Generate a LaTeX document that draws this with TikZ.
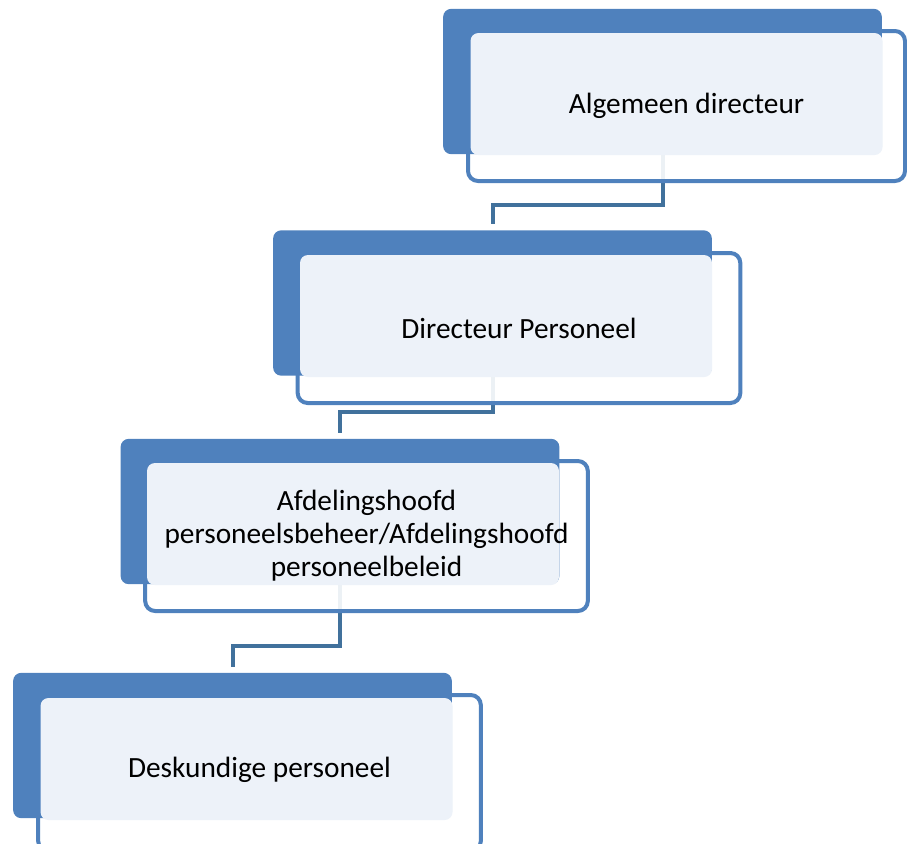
\documentclass[tikz,border=0pt]{standalone}
\usepackage{fontspec}
\setmainfont{Carlito}
\usepackage{tikz}
\usetikzlibrary{positioning,calc,backgrounds}
\definecolor{blokblauw}{HTML}{4F81BD}
\definecolor{kaartblauw}{HTML}{EDF2F9}
\definecolor{lijnblauw}{HTML}{41719C}

\begin{document}
\begin{tikzpicture}[x=0.75pt, y=-0.75pt,
	blok/.style={rectangle, draw=none, rounded corners=6pt, fill=blokblauw,
		minimum width=329pt, minimum height=109pt, inner sep=0pt, outer sep=0pt},
	kader/.style={rectangle, draw=blokblauw, line width=3pt, rounded corners=7.5pt,
		fill=white, fill opacity=0.9, minimum width=332pt, minimum height=112.5pt,
		inner sep=0pt, outer sep=0pt},
	kaart/.style={rectangle, draw=none, rounded corners=6pt, fill=kaartblauw,
		minimum width=309pt, minimum height=91.5pt, inner sep=0pt, outer sep=0pt},
	tekst/.style={text=black, font=\fontsize{22}{24.75}\selectfont, align=center},
	lijn/.style={draw=lijnblauw, line width=3pt, shorten >=4.5pt}
	]
	\useasboundingbox (0,0) rectangle (907,843);

	% Algemeen directeur
	\node (kader1) [kader, minimum width=327.75pt] at (686.5,106) {};
	\node (blok1) [blok] at (662.5,81.5) {};
	\node (kaart1) [kaart] at (676.5,94) {};
	\node (tekst1) [tekst] at (kader1.center) {Algemeen directeur};

	% Directeur Personeel
	\node (kader2) [kader] at (519,328) {};
	\node (blok2) [blok] at (492.5,303) {};
	\node (kaart2) [kaart] at (506,316) {};
	\node (tekst2) [tekst] at (kader2.center) {Directeur Personeel};

	% Afdelingshoofd
	\node (kader3) [kader] at (366.5,536) {};
	\node (blok3) [blok] at (340,511.5) {};
	\node (kaart3) [kaart] at (353,524) {};
	\node (tekst3) [tekst] at (kader3.center)
		{Afdelingshoofd\\personeelsbeheer/Afdelingshoofd\\personeelbeleid};

	% Deskundige personeel
	\node (kader4) [kader, minimum height=117pt] at (259.5,773) {};
	\node (blok4) [blok] at (232.5,745.5) {};
	\node (kaart4) [kaart] at (246.5,759) {};
	\node (tekst4) [tekst] at (259.5,770) {Deskundige personeel};

	\coordinate (knik1) at (0,205);
	\coordinate (knik2) at (0,412);
	\coordinate (knik3) at (0,646);

	\begin{scope}[on background layer]
		\draw[lijn] (blok1.south) -- (blok1.south |- knik1) -| (blok2.north);
		\draw[lijn] (blok2.south) -- (blok2.south |- knik2) -| (blok3.north);
		\draw[lijn] (blok3.south) -- (blok3.south |- knik3) -| (blok4.north);
	\end{scope}
\end{tikzpicture}
\end{document}
